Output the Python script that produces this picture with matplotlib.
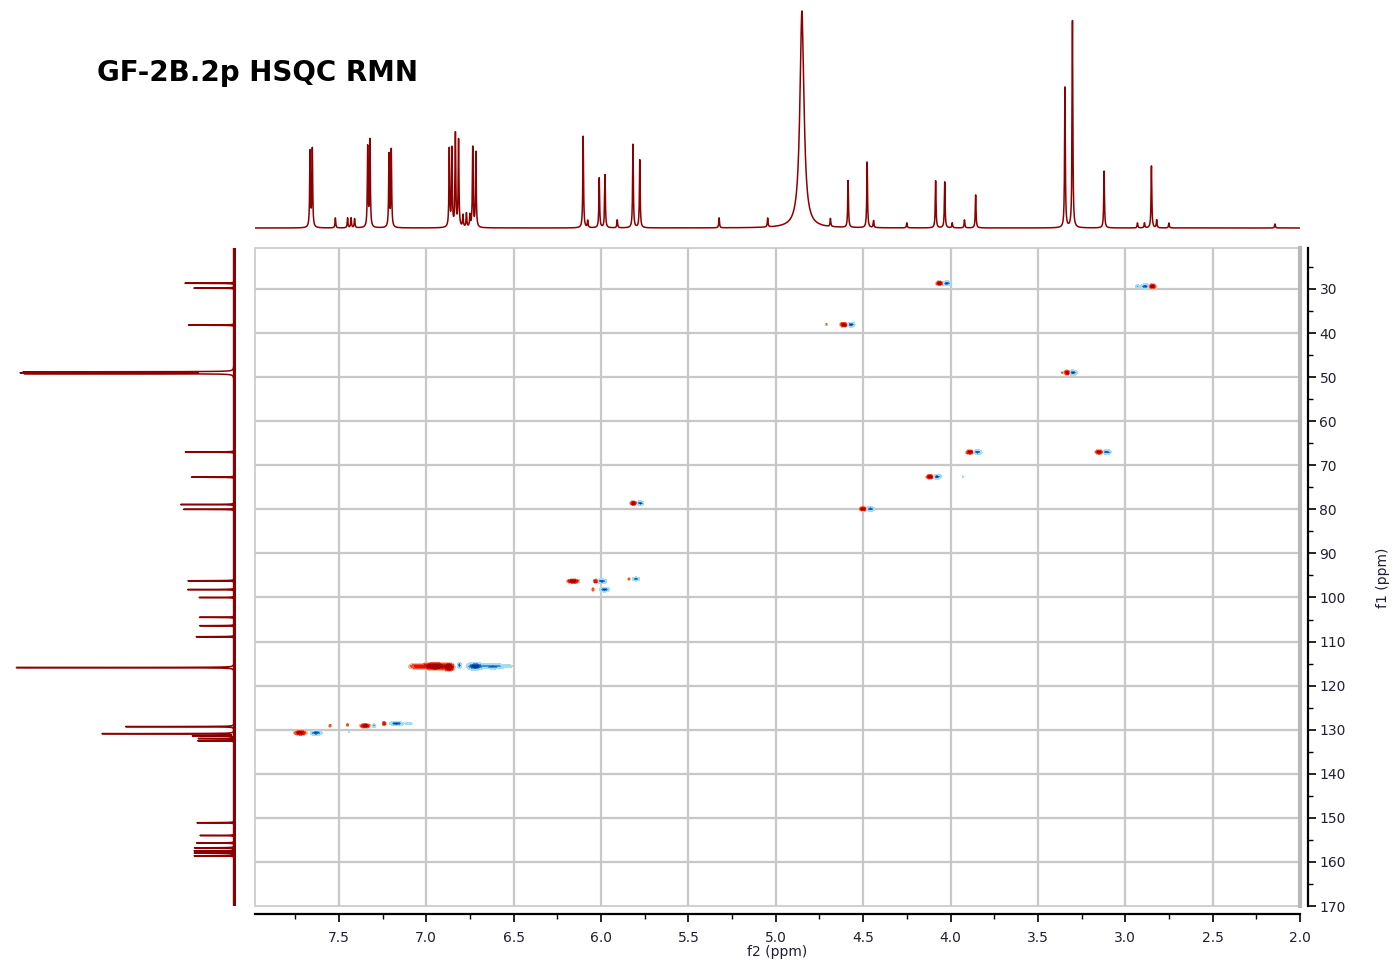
"""
GF-2B.2p HSQC spectrum — 2D map with 1H trace on top and 13C trace on the left.
"""
import numpy as np
import matplotlib
matplotlib.use("Agg")
import matplotlib.pyplot as plt
import matplotlib.ticker as mticker
from matplotlib.patches import Rectangle

# ── 1H trace: peak positions (ppm), heights, half-widths ───────────────────────
H_PPM = [7.665, 7.652, 7.52, 7.45, 7.43, 7.41, 7.335, 7.322, 7.213, 7.200,
         6.868, 6.853, 6.833, 6.815, 6.79, 6.77, 6.75, 6.734, 6.716,
         6.102, 6.076, 6.010, 5.977, 5.907, 5.817, 5.778, 5.324, 5.046,
         4.85, 4.687, 4.586, 4.477, 4.44, 4.25, 4.085, 4.033, 3.99, 3.92, 3.856,
         3.345, 3.302, 3.121, 2.93, 2.89, 2.85, 2.82, 2.75, 2.143]
H_INT = [76, 78, 10, 10, 10, 9, 80, 87, 73, 77,
         78, 78, 93, 87, 12, 14, 12, 80, 75,
         92, 7, 50, 53, 8, 84, 68, 10, 9,
         217, 8, 47, 66, 7, 5, 47, 46, 5, 8, 33,
         141, 207, 57, 5, 5, 62, 8, 5, 4]
H_HW = [0.0025] * len(H_PPM)
H_HW[H_PPM.index(4.85)] = 0.014

# ── 13C trace (drawn pointing left) ────────────────────────────────────────────
C_PPM = [28.7, 29.8, 38.2, 48.8, 49.0, 49.2, 67.0, 72.7, 78.9, 80.0,
         96.2, 98.2, 100.0, 104.5, 106.4, 108.9, 115.9,
         129.3, 130.9, 131.4, 132.0, 132.5,
         151.1, 154.0, 155.7, 156.8, 157.5, 158.0, 158.6]
C_INT = [49, 40, 46, 206, 206, 206, 49, 43, 54, 51,
         46, 47, 35, 35, 35, 38, 218,
         109, 134, 41, 36, 36,
         37, 34, 38, 40, 40, 40, 40]

# ── HSQC cross-peak lobes: 1H ppm, 13C ppm, signed amplitude, widths ───────────
LOBE_H = [4.063, 4.022,
          2.93, 2.885, 2.845,
          4.71, 4.61, 4.57,
          3.36, 3.332, 3.30,
          3.89, 3.845,
          3.15, 3.105,
          4.117, 4.077, 3.93,
          4.50, 4.46,
          5.815, 5.775,
          6.16, 6.03, 5.995,
          6.045, 5.98,
          5.84, 5.80,
          7.05, 6.95, 6.87, 6.81, 6.72, 6.62, 6.53,
          7.72, 7.63, 7.55, 7.45, 7.44, 7.35, 7.30, 7.24, 7.17, 7.10]
LOBE_C = [28.7, 28.7,
          29.4, 29.4, 29.4,
          38.0, 38.1, 38.1,
          49.0, 49.0, 49.0,
          67.0, 67.0,
          67.0, 67.0,
          72.6, 72.6, 72.6,
          79.9, 79.9,
          78.6, 78.6,
          96.3, 96.3, 96.3,
          98.2, 98.2,
          95.8, 95.8,
          115.6, 115.6, 115.8, 115.4, 115.6, 115.6, 115.6,
          130.7, 130.7, 129.1, 128.9, 130.4, 129.1, 129.1, 128.6, 128.6, 128.6]
LOBE_AMP = [1.0, -1.0,
            -0.3, -1.0, 1.0,
            0.25, 1.0, -1.0,
            0.25, 1.0, -1.0,
            1.0, -1.0,
            1.0, -1.0,
            1.0, -1.0, -0.2,
            1.0, -1.0,
            1.0, -1.0,
            1.0, 0.7, -1.0,
            0.4, -1.0,
            0.35, -0.8,
            0.5, 1.5, 1.5, -0.8, -1.5, -0.6, -0.15,
            1.0, -1.0, 0.4, 0.4, -0.25, 1.0, -0.6, 0.6, -1.0, -0.2]
LOBE_WH = [0.015, 0.016,
           0.012, 0.016, 0.015,
           0.005, 0.015, 0.015,
           0.005, 0.012, 0.016,
           0.015, 0.016,
           0.015, 0.016,
           0.015, 0.016, 0.004,
           0.015, 0.016,
           0.013, 0.013,
           0.025, 0.010, 0.018,
           0.006, 0.018,
           0.005, 0.014,
           0.04, 0.05, 0.02, 0.008, 0.03, 0.05, 0.03,
           0.025, 0.022, 0.006, 0.005, 0.003, 0.02, 0.008, 0.008, 0.025, 0.02]
LOBE_WC = [0.35, 0.35,
           0.30, 0.38, 0.38,
           0.25, 0.38, 0.38,
           0.25, 0.40, 0.40,
           0.35, 0.35,
           0.35, 0.35,
           0.35, 0.35, 0.20,
           0.35, 0.35,
           0.35, 0.35,
           0.35, 0.35, 0.35,
           0.30, 0.35,
           0.30, 0.30,
           0.50, 0.55, 0.60, 0.50, 0.55, 0.45, 0.40,
           0.40, 0.40, 0.30, 0.30, 0.30, 0.35, 0.30, 0.35, 0.35, 0.30]

X_TICKS = [7.5, 7.0, 6.5, 6.0, 5.5, 5.0, 4.5, 4.0, 3.5, 3.0, 2.5, 2.0]
Y_TICKS = [30, 40, 50, 60, 70, 80, 90, 100, 110, 120, 130, 140, 150, 160, 170]

X_LIM = (7.98, 2.0)
Y_LIM = (170, 20.7)
TRACE = "#8b0000"
GRID = "#c8c8c8"
TXT = "#202030"

# ── figure layout (pixel boxes → figure fractions) ─────────────────────────────
W, H = 1395, 965
fig = plt.figure(figsize=(W / 100, H / 100), dpi=100)

def box(x0, y0, x1, y1):
    return [x0 / W, 1 - y1 / H, (x1 - x0) / W, (y1 - y0) / H]

ax = fig.add_axes(box(255, 248, 1300, 906))
ax_top = fig.add_axes(box(255, 5, 1300, 230))
ax_left = fig.add_axes(box(10, 248, 236, 906))

# ── 2D map ─────────────────────────────────────────────────────────────────────
hx = np.linspace(2.0, 7.98, 3000)
cy = np.linspace(20.7, 170, 1500)
field = np.zeros((cy.size, hx.size))
for h, c, a, wh, wc in zip(LOBE_H, LOBE_C, LOBE_AMP, LOBE_WH, LOBE_WC):
    gx = np.exp(-((hx - h) / wh) ** 2)
    gy = np.exp(-((cy - c) / wc) ** 2)
    field += a * np.outer(gy, gx)

levels = [-5, -0.7, -0.4, -0.2, -0.08, 0.08, 0.2, 0.4, 0.7, 5]
colors = ["#0a3590", "#1a5cc0", "#3a94d8", "#a6dcf0", (1, 1, 1, 0),
          "#f8b890", "#f05030", "#e01010", "#a80000"]
ax.contourf(hx, cy, field, levels=levels, colors=colors, zorder=3)

ax.set_xlim(*X_LIM)
ax.set_ylim(*Y_LIM)
for x in X_TICKS[:-1]:
    ax.axvline(x, color=GRID, lw=1.6, zorder=1)
for y in Y_TICKS[:-1]:
    ax.axhline(y, color=GRID, lw=1.6, zorder=1)

ax.add_patch(Rectangle((0, 0), 1, 1, transform=ax.transAxes, fill=False,
                       ec=GRID, lw=1.2, zorder=4, clip_on=False))
ax.plot([1, 1], [0, 1], transform=ax.transAxes, color="#b8b8b8", lw=3,
        zorder=4, clip_on=False)

ax.spines["top"].set_visible(False)
ax.spines["left"].set_visible(False)
ax.spines["bottom"].set_position(("outward", 6))
ax.spines["right"].set_position(("outward", 6))
ax.spines["bottom"].set_linewidth(1.6)
ax.spines["right"].set_linewidth(1.6)

ax.xaxis.set_major_locator(mticker.FixedLocator(X_TICKS))
ax.xaxis.set_minor_locator(mticker.MultipleLocator(0.25))
ax.xaxis.set_major_formatter(mticker.FormatStrFormatter("%.1f"))
ax.yaxis.tick_right()
ax.yaxis.set_major_locator(mticker.FixedLocator(Y_TICKS))
ax.yaxis.set_minor_locator(mticker.MultipleLocator(5))
ax.tick_params(axis="both", which="major", direction="out", length=6,
               width=1.2, labelsize=10, labelcolor=TXT, pad=6)
ax.tick_params(axis="both", which="minor", direction="out", length=3.5,
               width=1.0)
ax.tick_params(axis="y", which="major", pad=2)
ax.set_xlabel("f2 (ppm)", fontsize=10, color=TXT, labelpad=0)
fig.text(1383 / W, 1 - 578 / H, "f1 (ppm)", fontsize=10, color=TXT,
         rotation=90, ha="center", va="center")

# ── 1H trace on top ────────────────────────────────────────────────────────────
hh = np.linspace(2.0, 7.98, 14000)
spec_h = np.zeros_like(hh)
for p, i, w in zip(H_PPM, H_INT, H_HW):
    spec_h += i / (1 + ((hh - p) / w) ** 2)
ax_top.plot(hh, spec_h, color=TRACE, lw=1.1)
ax_top.set_xlim(*X_LIM)
ax_top.set_ylim(-2, 223)
ax_top.axis("off")

# ── 13C trace on the left ──────────────────────────────────────────────────────
cc = np.linspace(20.9, 170, 16000)
spec_c = np.zeros_like(cc)
for p, i in zip(C_PPM, C_INT):
    spec_c += i / (1 + ((cc - p) / 0.03) ** 2)
ax_left.plot(np.zeros(2), [cc[0], cc[-1]], color=TRACE, lw=2.4)
ax_left.plot(spec_c, cc, color=TRACE, lw=1.1)
ax_left.set_xlim(224, -2)
ax_left.set_ylim(*Y_LIM)
ax_left.axis("off")

fig.text(97 / W, 1 - 73 / H, "GF-2B.2p HSQC RMN", fontsize=20,
         fontweight="bold", va="center", ha="left", color="black")

fig.savefig("out.png", dpi=100)
